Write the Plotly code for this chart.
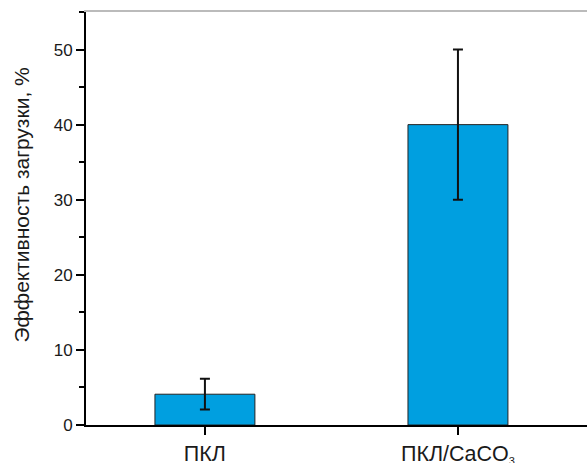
import plotly.graph_objects as go

categories = ["ПКЛ", "ПКЛ/CaCO<sub><span style='font-size:11px'>3</span></sub>"]
values = [4.1, 40.0]
errors = [2.05, 10.0]
y_title = "Эффективность загрузки, %"

fig = go.Figure()
fig.add_trace(go.Bar(
    x=[0, 1], y=values, width=0.395,
    marker=dict(color="#009FE0", line=dict(color="#222222", width=1)),
    error_y=dict(type="data", array=errors, visible=True, color="#111111", thickness=2, width=5),
))

plot_w = 587 - 86
fig.update_layout(
    width=587, height=463,
    margin=dict(l=86, r=0, t=12, b=38),
    paper_bgcolor="white", plot_bgcolor="white",
    font=dict(family="Liberation Sans, Arial, sans-serif", color="#1a1a1a"),
    showlegend=False,
    xaxis=dict(
        range=[-0.47, 1.51], tickmode="array", tickvals=[0, 1], ticktext=categories,
        showline=True, linecolor="black", linewidth=2, ticks="outside", ticklen=8,
        tickwidth=2, tickcolor="black", showgrid=False, zeroline=False,
        tickfont=dict(size=21.5), automargin=False,
    ),
    xaxis2=dict(
        overlaying="x", side="top", range=[-0.47, 1.51], showline=True,
        linecolor="#bbbbbb", linewidth=1.5, showticklabels=False, ticks="",
        showgrid=False, zeroline=False, automargin=False,
    ),
    yaxis=dict(
        range=[0, 55], tickmode="array", tickvals=[0, 10, 20, 30, 40, 50],
        showline=True, linecolor="black", linewidth=2, ticks="outside", ticklen=8,
        tickwidth=2, tickcolor="black", showgrid=False, zeroline=False,
        tickfont=dict(size=17), automargin=False,
        minor=dict(ticks="outside", ticklen=5, tickwidth=2, tickcolor="black", dtick=5, tick0=0),
    ),
    annotations=[dict(text=y_title, textangle=-90, xref="paper", yref="paper",
                      x=-86/plot_w, y=(425-205)/413, xanchor="left", yanchor="middle",
                      xshift=7, showarrow=False, font=dict(size=21))],
)
fig.add_trace(go.Scatter(x=[None], y=[None], xaxis="x2", showlegend=False, hoverinfo="skip"))

fig.write_html("out.html")
